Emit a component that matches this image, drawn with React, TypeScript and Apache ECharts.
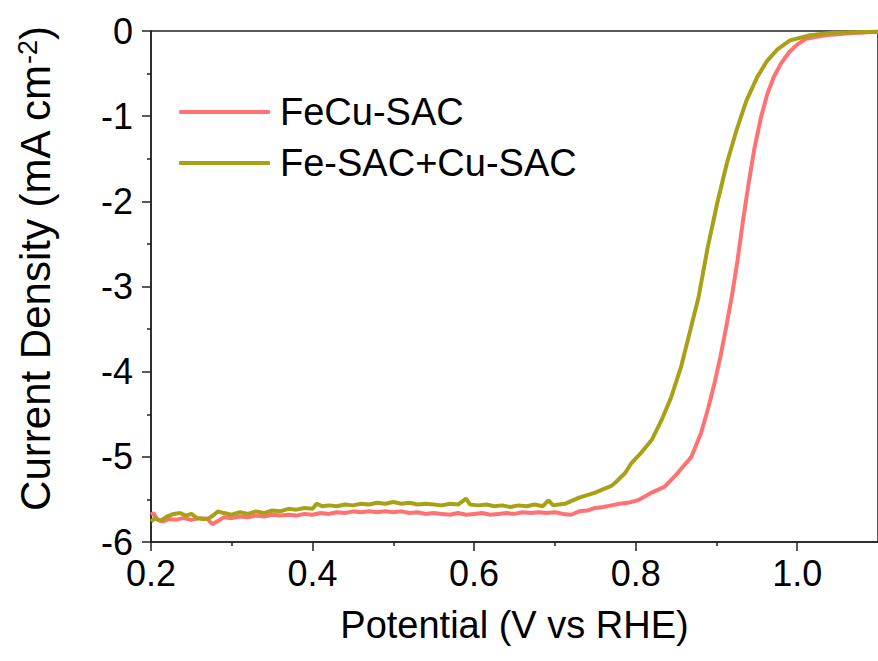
import React, { useEffect, useRef } from "react";
import * as echarts from "echarts";

// Potential (V vs RHE), current density (mA cm^-2) pairs
const feCuSac: [number, number][] = [
  [0.2, -5.68], [0.203, -5.66], [0.208, -5.74], [0.215, -5.76], [0.222, -5.73],
  [0.23, -5.74], [0.24, -5.72], [0.25, -5.74], [0.26, -5.72], [0.27, -5.73],
  [0.276, -5.79], [0.282, -5.76], [0.29, -5.71], [0.3, -5.72], [0.31, -5.7],
  [0.32, -5.71], [0.33, -5.69], [0.34, -5.7], [0.35, -5.68], [0.36, -5.69],
  [0.37, -5.68], [0.38, -5.69], [0.39, -5.67], [0.4, -5.68], [0.41, -5.66],
  [0.42, -5.67], [0.43, -5.65], [0.44, -5.66], [0.45, -5.64], [0.46, -5.65],
  [0.47, -5.64], [0.48, -5.65], [0.49, -5.64], [0.5, -5.65], [0.51, -5.64],
  [0.52, -5.66], [0.53, -5.65], [0.54, -5.67], [0.55, -5.66], [0.56, -5.67],
  [0.57, -5.68], [0.58, -5.66], [0.59, -5.68], [0.6, -5.67], [0.61, -5.66],
  [0.62, -5.68], [0.63, -5.67], [0.64, -5.66], [0.65, -5.67], [0.66, -5.65],
  [0.67, -5.66], [0.68, -5.65], [0.69, -5.66], [0.7, -5.65], [0.71, -5.67],
  [0.72, -5.68], [0.73, -5.64], [0.74, -5.63], [0.75, -5.6], [0.76, -5.59],
  [0.77, -5.57], [0.78, -5.55], [0.79, -5.54], [0.803, -5.51], [0.82, -5.42],
  [0.836, -5.35], [0.852, -5.19], [0.869, -5.0], [0.881, -4.72], [0.89, -4.42],
  [0.898, -4.12], [0.905, -3.82], [0.912, -3.48], [0.919, -3.12], [0.926, -2.7],
  [0.933, -2.22], [0.94, -1.78], [0.947, -1.38], [0.955, -1.02], [0.963, -0.74],
  [0.971, -0.54], [0.98, -0.38], [0.99, -0.25], [1.0, -0.16], [1.011, -0.09],
  [1.035, -0.05], [1.06, -0.03], [1.1, -0.01],
];

const feSacCuSac: [number, number][] = [
  [0.2, -5.76], [0.205, -5.72], [0.212, -5.75], [0.22, -5.7], [0.228, -5.67],
  [0.236, -5.66], [0.243, -5.69], [0.25, -5.67], [0.257, -5.72], [0.265, -5.73],
  [0.272, -5.72], [0.278, -5.68], [0.283, -5.64], [0.29, -5.66], [0.3, -5.68],
  [0.31, -5.65], [0.32, -5.67], [0.33, -5.64], [0.34, -5.66], [0.35, -5.63],
  [0.36, -5.64], [0.37, -5.61], [0.38, -5.62], [0.39, -5.6], [0.4, -5.61],
  [0.405, -5.55], [0.412, -5.58], [0.42, -5.57], [0.43, -5.58], [0.44, -5.56],
  [0.45, -5.57], [0.46, -5.55], [0.47, -5.56], [0.48, -5.54], [0.49, -5.55],
  [0.5, -5.53], [0.51, -5.55], [0.52, -5.54], [0.53, -5.56], [0.54, -5.55],
  [0.55, -5.56], [0.56, -5.57], [0.57, -5.55], [0.58, -5.56], [0.59, -5.49],
  [0.595, -5.56], [0.605, -5.57], [0.615, -5.56], [0.625, -5.58], [0.635, -5.57],
  [0.645, -5.59], [0.655, -5.57], [0.665, -5.58], [0.675, -5.56], [0.685, -5.58],
  [0.692, -5.51], [0.698, -5.57], [0.705, -5.56], [0.713, -5.55], [0.72, -5.52],
  [0.73, -5.48], [0.74, -5.45], [0.75, -5.42], [0.76, -5.38], [0.77, -5.34],
  [0.774, -5.31], [0.787, -5.19], [0.795, -5.07], [0.807, -4.95], [0.82, -4.8],
  [0.832, -4.57], [0.844, -4.3], [0.856, -3.95], [0.868, -3.5], [0.878, -3.12],
  [0.889, -2.55], [0.901, -2.02], [0.913, -1.55], [0.925, -1.16], [0.937, -0.82],
  [0.95, -0.55], [0.962, -0.36], [0.975, -0.22], [0.991, -0.11], [1.016, -0.05],
  [1.044, -0.02], [1.1, -0.01],
];

const seriesNames = ["FeCu-SAC", "Fe-SAC+Cu-SAC"];
const seriesColors = ["#ff7272", "#a8a116"];
const xMajorTicks = [0.2, 0.4, 0.6, 0.8, 1.0];
const xMinorTicks = [0.3, 0.5, 0.7, 0.9];
const xTitle = "Potential (V vs RHE)";
const yTitleMain = "Current Density (mA cm";
const yTitleSup = "-2";

const FONT = "'Liberation Sans', Arial, Helvetica, sans-serif";
const AXIS_COLOR = "#222";

export default function App() {
  const ref = useRef<HTMLDivElement>(null);

  useEffect(() => {
    if (!ref.current) return;
    const chart = echarts.init(ref.current, undefined, { renderer: "svg" });
    const option: any = {
      animation: false,
      backgroundColor: "#fff",
      textStyle: { fontFamily: FONT },
      grid: {
        left: 151,
        top: 31,
        right: -8,
        bottom: 119,
        show: true,
        borderColor: AXIS_COLOR,
        borderWidth: 1.5,
        backgroundColor: "transparent",
      },
      legend: {
        orient: "vertical",
        left: 179,
        top: 92,
        padding: 0,
        itemWidth: 91,
        itemHeight: 4,
        itemGap: 11,
        icon: "roundRect",
        data: seriesNames,
        textStyle: {
          fontFamily: FONT,
          fontSize: 38,
          lineHeight: 40,
          color: "#000",
          padding: [0, 0, 0, 5],
        },
      },
      graphic: [
        {
          type: "text",
          x: 35,
          y: 269,
          rotation: Math.PI / 2,
          style: {
            text: `{a|${yTitleMain}}{s|${yTitleSup}}{a|)}`,
            align: "center",
            verticalAlign: "middle",
            rich: {
              a: { fontSize: 42, fill: "#000", fontFamily: FONT },
              s: { fontSize: 27, fill: "#000", fontFamily: FONT, verticalAlign: "top" },
            },
          },
        },
      ],
      xAxis: [
        {
          type: "value",
          min: 0.2,
          max: 1.1,
          interval: 0.2,
          position: "bottom",
          axisLine: { onZero: false, lineStyle: { color: AXIS_COLOR, width: 1.5 } },
          axisTick: { length: 9, inside: false, customValues: xMajorTicks, lineStyle: { color: AXIS_COLOR, width: 1.5 } },
          axisLabel: {
            customValues: xMajorTicks,
            formatter: (v: number) => v.toFixed(1),
            fontSize: 36,
            margin: 13,
            color: "#000",
            fontFamily: FONT,
          },
          splitLine: { show: false },
          name: xTitle,
          nameLocation: "middle",
          nameGap: 64,
          nameTextStyle: { fontSize: 38, color: "#000", fontFamily: FONT },
        },
        {
          type: "value",
          min: 0.2,
          max: 1.1,
          interval: 0.2,
          position: "bottom",
          axisLine: { show: false, onZero: false },
          axisTick: { length: 4, inside: false, customValues: xMinorTicks, lineStyle: { color: AXIS_COLOR, width: 1.5 } },
          axisLabel: { show: false },
          splitLine: { show: false },
        },
      ],
      yAxis: {
        type: "value",
        min: -6,
        max: 0,
        interval: 1,
        axisLine: { show: true, onZero: false, lineStyle: { color: AXIS_COLOR, width: 1.5 } },
        axisTick: { show: true, length: 9, inside: false, lineStyle: { color: AXIS_COLOR, width: 1.5 } },
        minorTick: { show: true, splitNumber: 2, length: 4, lineStyle: { color: AXIS_COLOR, width: 1.5 } },
        axisLabel: { fontSize: 36, margin: 18, color: "#000", fontFamily: FONT },
        splitLine: { show: false },
      },
      series: [
        {
          name: seriesNames[0],
          type: "line",
          data: feCuSac,
          symbol: "none",
          showSymbol: false,
          color: seriesColors[0],
          lineStyle: { color: seriesColors[0], width: 4 },
          xAxisIndex: 0,
          yAxisIndex: 0,
        },
        {
          name: seriesNames[1],
          type: "line",
          data: feSacCuSac,
          symbol: "none",
          showSymbol: false,
          color: seriesColors[1],
          lineStyle: { color: seriesColors[1], width: 4 },
          xAxisIndex: 0,
          yAxisIndex: 0,
        },
      ],
    };
    chart.setOption(option);
    return () => chart.dispose();
  }, []);

  return (
    <div
      ref={ref}
      style={{ position: "fixed", left: 0, top: 0, width: 878, height: 661, background: "#fff" }}
    />
  );
}
